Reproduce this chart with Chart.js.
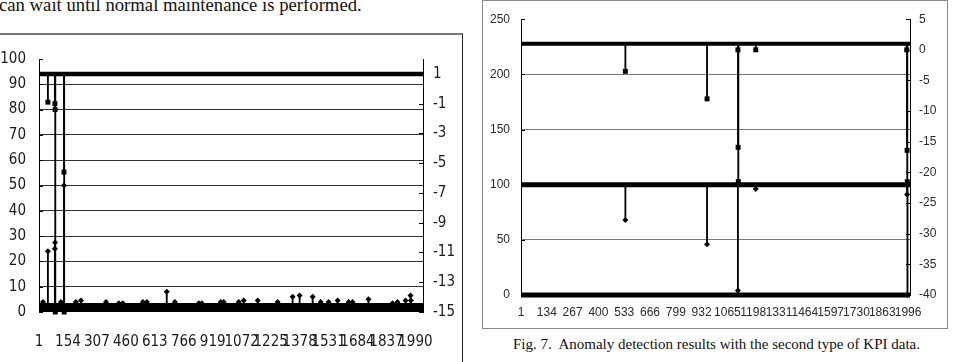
<!DOCTYPE html>
<html>
<head>
<meta charset="utf-8">
<script src="https://cdn.jsdelivr.net/npm/chart.js@4.4.1/dist/chart.umd.min.js"></script>
<style>
  body { margin: 0; width: 954px; height: 362px; overflow: hidden; background: #fff; position: relative; }
  .txt { position: absolute; font-family: 'Liberation Serif', 'Times New Roman', serif; color: #111; white-space: pre; }
  #lead { left: -1px; top: -6px; font-size: 18.7px; }
  #cap { left: 513px; top: 336px; font-size: 15px; }
  #boxL { position: absolute; left: -2px; top: 33px; width: 464px; height: 340px; border-top: 2px solid #777; border-right: 1px solid #222; }
  #boxR { position: absolute; left: 482px; top: 0; width: 464px; height: 327px; border: 1px solid #888; }
  canvas { position: absolute; }
  #chartL { left: 0; top: 35px; }
  #chartR { left: 484px; top: 1px; }
</style>
</head>
<body>
<div class="txt" id="lead">can wait until normal maintenance is performed.</div>
<div id="boxL"></div>
<div id="boxR"></div>
<canvas id="chartL" width="462" height="327"></canvas>
<canvas id="chartR" width="462" height="326"></canvas>
<div class="txt" id="cap">Fig. 7.  Anomaly detection results with the second type of KPI data.</div>
<script>
// ---- left chart (first KPI type) ----
const leftXTicks = [1, 154, 307, 460, 613, 766, 919, 1072, 1225, 1378, 1531, 1684, 1837, 1990];
const leftXRange = [1, 2030];
const leftYTicks = [0, 10, 20, 30, 40, 50, 60, 70, 80, 90, 100];
const leftY1Ticks = [-15, -13, -11, -9, -7, -5, -3, -1, 1];

// KPI values (left axis): low noisy band plus spikes
const kpiBand = 1.75;
const kpiIdx = [22, 48, 85, 86, 117, 133, 196, 223, 355, 423, 444, 550, 571, 676, 719, 845, 861, 961, 977,
                1056, 1083, 1157, 1262, 1341, 1378, 1447, 1489, 1531, 1579, 1637, 1658, 1742, 1869, 1895, 1938, 1964, 1966];
const kpiVal = [4, 24, 25, 27.5, 4, 50, 4, 4.5, 4, 3.5, 3.5, 4, 4, 8, 4, 3.5, 3.5, 4, 4,
                4, 4.5, 4.5, 4, 6, 6.5, 6, 4, 4, 4.5, 4, 4, 5, 3.5, 4, 4.5, 6.5, 4.5];

// anomaly score (right axis): flat at 1 with drops
const flagLevel = 1;
const flagIdx = [48, 85, 86, 87, 133, 134];
const flagVal = [-0.9, -1.0, -1.4, -15, -5.6, -15];

// ---- right chart (second KPI type) ----
const rightXTicks = [1, 134, 267, 400, 533, 666, 799, 932, 1065, 1198, 1331, 1464, 1597, 1730, 1863, 1996];
const rightXRange = [1, 2006];
const rKpiLevel = 100;
const rKpiIdx = [539, 960, 1119, 1211, 1991, 1993];
const rKpiVal = [68, 46, 4, 96, 91, 0];
const rZeroLevel = 0;
const rFlagLevel = 1;
const rFlagIdx = [539, 960, 1119, 1120, 1121, 1211, 1989, 1991, 1992];
const rFlagVal = [-3.5, -8, 0, -15.9, -21.5, 0, 0, -16.4, -21.5];

const innerTicks = {
  id: 'innerTicks',
  afterDraw(chart) {
    const ctx = chart.ctx;
    ctx.save();
    ctx.strokeStyle = '#000';
    ctx.lineWidth = 1;
    Object.values(chart.scales).forEach(s => {
      if (s.axis !== 'y') return;
      const x0 = s.position === 'left' ? s.right : s.left;
      const dir = s.position === 'left' ? 1 : -1;
      s.ticks.forEach(t => {
        const y = Math.round(s.getPixelForValue(t.value)) + 0.5;
        ctx.beginPath();
        ctx.moveTo(x0, y);
        ctx.lineTo(x0 + dir * 4, y);
        ctx.stroke();
      });
    });
    ctx.restore();
  }
};

const flat = (range, v) => range.map(x => ({x, y: v}));
const pts = (idx, vals) => idx.map((x, i) => ({x, y: vals[i]}));
const stems = (idx, vals, base) => idx.map((x, i) => ({x, y: [base, vals[i]]}));

const rowLine = (data, yAxisID, width) => ({
  type: 'line', data, yAxisID, borderColor: '#000', borderWidth: width,
  pointRadius: 0, clip: false
});
const stemBars = (data, yAxisID) => ({
  type: 'bar', data, yAxisID, backgroundColor: '#000', barThickness: 1.2,
  grouped: false, borderWidth: 0
});
const marks = (data, yAxisID, style, r) => ({
  type: 'line', data, yAxisID, showLine: false, pointStyle: style,
  pointRadius: r, backgroundColor: '#000', borderColor: '#000', borderWidth: 0, clip: false
});

const fixTicks = list => scale => { scale.ticks = list.map(v => ({value: v})); };

function buildOptions(cfg) {
  return {
    responsive: false,
    animation: false,
    events: [],
    layout: { padding: { top: cfg.top, left: 0, right: 0, bottom: 0 } },
    plugins: { legend: { display: false }, tooltip: { enabled: false } },
    scales: {
      x: {
        type: 'linear', min: cfg.xRange[0], max: cfg.xRange[1], offset: false,
        afterBuildTicks: fixTicks(cfg.xTicks),
        afterFit: s => { s.height = cfg.xHeight; },
        grid: { display: false, drawTicks: false },
        border: { display: false },
        ticks: { callback: v => String(v), padding: cfg.xPad, maxRotation: 0, autoSkip: false,
                 font: cfg.font, color: cfg.color }
      },
      y: {
        position: 'left', min: cfg.yRange[0], max: cfg.yRange[1],
        afterBuildTicks: fixTicks(cfg.yTicks),
        afterFit: s => { s.width = cfg.yWidth; },
        grid: { drawTicks: false, lineWidth: 1,
                color: c => (c.tick && (c.tick.value === cfg.yRange[0] || c.tick.value === cfg.yRange[1])) ? 'rgba(0,0,0,0)' : cfg.gridColor },
        border: { display: true, color: '#000', width: 1 },
        ticks: { callback: v => String(v), padding: cfg.yPad, font: cfg.font, color: cfg.color }
      },
      y1: {
        position: 'right', min: cfg.y1Range[0], max: cfg.y1Range[1],
        afterBuildTicks: fixTicks(cfg.y1Ticks),
        afterFit: s => { s.width = cfg.y1Width; },
        grid: { display: false, drawTicks: false },
        border: { display: true, color: '#000', width: 1 },
        ticks: { callback: v => String(v), padding: cfg.y1Pad, font: cfg.font, color: cfg.color }
      }
    }
  };
}

new Chart(document.getElementById('chartL'), {
  type: 'line',
  data: {
    datasets: [
      marks(pts(flagIdx, flagVal), 'y1', 'rect', 3.5),
      marks(pts(kpiIdx, kpiVal), 'y', 'rectRot', 3),
      stemBars(stems(flagIdx, flagVal, flagLevel), 'y1'),
      stemBars(stems(kpiIdx, kpiVal, kpiBand), 'y'),
      rowLine(flat(leftXRange, flagLevel), 'y1', 4.5),
      rowLine(flat(leftXRange, kpiBand), 'y', 9)
    ]
  },
  options: buildOptions({
    top: 24, xRange: leftXRange, xTicks: leftXTicks, xHeight: 50, xPad: 21,
    yRange: [0, 100], yTicks: leftYTicks, yWidth: 39, yPad: 13,
    y1Range: [-15, 2], y1Ticks: leftY1Ticks, y1Width: 39, y1Pad: 10,
    gridColor: '#333',
    font: { family: "'Liberation Sans Narrow', 'DejaVu Sans Condensed', 'Liberation Sans', sans-serif", size: 15 },
    color: '#1a1a1a'
  }),
  plugins: [innerTicks]
});

new Chart(document.getElementById('chartR'), {
  type: 'line',
  data: {
    datasets: [
      marks(pts(rFlagIdx, rFlagVal), 'y1', 'rect', 3.5),
      marks(pts(rKpiIdx, rKpiVal), 'y', 'rectRot', 3),
      stemBars(stems(rFlagIdx, rFlagVal, rFlagLevel), 'y1'),
      stemBars(stems(rKpiIdx, rKpiVal, rKpiLevel), 'y'),
      rowLine(flat(rightXRange, rFlagLevel), 'y1', 4),
      rowLine(flat(rightXRange, rKpiLevel), 'y', 5),
      rowLine(flat(rightXRange, rZeroLevel), 'y', 5)
    ]
  },
  options: buildOptions({
    top: 15, xRange: rightXRange, xTicks: rightXTicks, xHeight: 32, xPad: 10,
    yRange: [0, 250], yTicks: [0, 50, 100, 150, 200, 250], yWidth: 37, yPad: 11,
    y1Range: [-40, 5], y1Ticks: [-40, -35, -30, -25, -20, -15, -10, -5, 0, 5], y1Width: 36, y1Pad: 9,
    gridColor: '#777',
    font: { family: "'Liberation Sans', Arial, sans-serif", size: 12 },
    color: '#2a2a2a'
  }),
  plugins: [innerTicks]
});
</script>
</body>
</html>
